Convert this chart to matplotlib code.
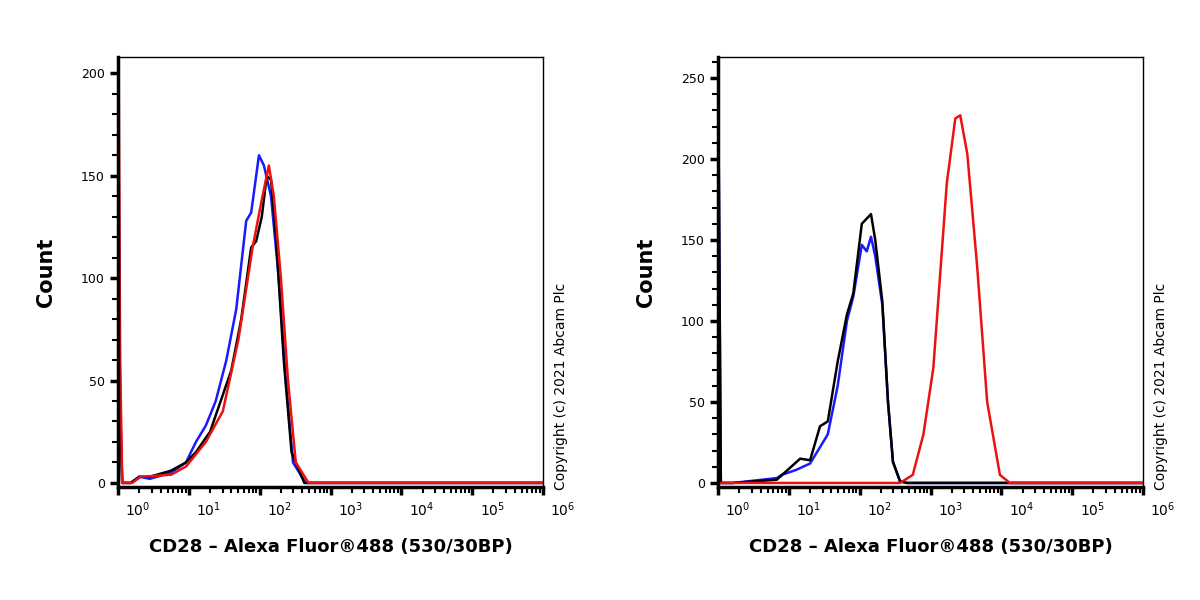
import numpy as np
import matplotlib
matplotlib.use("Agg")
import matplotlib.pyplot as plt
from matplotlib.transforms import ScaledTranslation
from matplotlib.ticker import LogLocator, NullFormatter, MultipleLocator

# positions in decades along the axis, counts
L_blue_x = [0.0, 0.01, 0.03, 0.06, 0.18, 0.3, 0.45, 0.75, 0.96, 1.1, 1.24, 1.38, 1.53, 1.67, 1.81, 1.88, 1.99, 2.06, 2.16, 2.27, 2.37, 2.47, 2.65, 6.0]
L_blue_y = [200, 150, 40, 0, 0, 3, 2, 5, 10, 20, 28, 40, 60, 85, 128, 132, 160, 155, 140, 100, 50, 10, 0, 0]
L_black_x = [0.0, 0.01, 0.03, 0.06, 0.18, 0.3, 0.45, 0.75, 0.96, 1.1, 1.3, 1.6, 1.74, 1.88, 1.95, 2.03, 2.1, 2.16, 2.23, 2.34, 2.45, 2.63, 6.0]
L_black_y = [150, 100, 30, 0, 0, 3, 3, 6, 10, 15, 25, 55, 80, 115, 118, 130, 150, 148, 120, 60, 15, 0, 0]
L_red_x = [0.0, 0.01, 0.03, 0.06, 0.2, 0.32, 0.75, 0.96, 1.24, 1.48, 1.7, 1.9, 2.04, 2.13, 2.2, 2.3, 2.4, 2.51, 2.69, 6.0]
L_red_y = [200, 200, 60, 0, 0, 3, 4, 8, 20, 35, 70, 115, 140, 155, 140, 100, 50, 10, 0, 0]

R_black_x = [0.0, 0.01, 0.04, 0.21, 0.83, 1.16, 1.3, 1.44, 1.55, 1.69, 1.82, 1.91, 2.03, 2.16, 2.22, 2.32, 2.4, 2.47, 2.57, 2.67, 6.0]
R_black_y = [250, 200, 0, 0, 2, 15, 14, 35, 38, 75, 104, 117, 160, 166, 150, 112, 50, 13, 1, 0, 0]
R_blue_x = [0.0, 0.01, 0.04, 0.21, 0.83, 0.9, 1.1, 1.3, 1.55, 1.69, 1.82, 1.91, 2.03, 2.1, 2.16, 2.22, 2.32, 2.4, 2.47, 2.57, 2.67, 6.0]
R_blue_y = [255, 200, 0, 0, 3, 5, 8, 12, 30, 60, 100, 115, 147, 143, 152, 140, 110, 50, 13, 1, 0, 0]
R_red_x = [0.0, 2.57, 2.75, 2.9, 3.04, 3.23, 3.35, 3.42, 3.52, 3.66, 3.8, 3.98, 4.12, 6.0]
R_red_y = [0, 0, 5, 30, 71, 185, 225, 227, 203, 133, 50, 5, 0, 0]

xtick_labels = ["$10^{%d}$" % i for i in range(7)]
L_yticks = [0, 50, 100, 150, 200]
R_yticks = [0, 50, 100, 150, 200, 250]

fig = plt.figure(figsize=(12, 6), dpi=100)
W, H = 1200, 600
axL = fig.add_axes([118/W, 1-487/H, 425/W, 430/H])
axR = fig.add_axes([718/W, 1-487/H, 425/W, 430/H])

def setup(ax, yticks, ylim):
    ax.set_xscale("log")
    ax.set_xlim(1, 1e6)
    ax.set_ylim(*ylim)
    ax.set_xticks([10**i for i in range(7)])
    ax.set_xticklabels(xtick_labels, fontsize=10)
    ax.xaxis.set_minor_locator(LogLocator(base=10, subs=np.arange(2, 10), numticks=20))
    ax.xaxis.set_minor_formatter(NullFormatter())
    ax.set_yticks(yticks)
    ax.set_yticklabels([str(v) for v in yticks], fontsize=9)
    ax.yaxis.set_minor_locator(MultipleLocator(10))
    ax.tick_params(which="major", direction="out", length=6, width=2.5)
    ax.tick_params(which="minor", direction="out", length=4, width=1.5)
    for lab in ax.get_xticklabels():
        lab.set_transform(lab.get_transform() + ScaledTranslation(0.2, 0, fig.dpi_scale_trans))
    for s in ["left", "bottom"]:
        ax.spines[s].set_linewidth(2.5)
    for s in ["top", "right"]:
        ax.spines[s].set_linewidth(1)
    ax.set_ylabel("Count", fontsize=15, fontweight="bold", labelpad=18)
    ax.set_xlabel("CD28 \u2013 Alexa Fluor\u00ae488 (530/30BP)", fontsize=13, fontweight="bold", labelpad=14)

def X(d):
    return 10 ** np.array(d)

setup(axL, L_yticks, (-2, 208))
axL.plot(X(L_blue_x), L_blue_y, color="#1a1aff", lw=1.8)
axL.plot(X(L_black_x), L_black_y, color="black", lw=1.8)
axL.plot(X(L_red_x), L_red_y, color="#ee1111", lw=1.8)

setup(axR, R_yticks, (-2.5, 263))
axR.plot(X(R_blue_x), R_blue_y, color="#1a1aff", lw=1.8)
axR.plot(X(R_black_x), R_black_y, color="black", lw=1.8)
axR.plot(X(R_red_x), R_red_y, color="#ee1111", lw=1.8)

for xp in (561, 1161):
    fig.text(xp/W, 1-490/H, "Copyright (c) 2021 Abcam Plc", rotation=90, fontsize=10,
             ha="center", va="bottom")

fig.savefig("out.png", dpi=100)
